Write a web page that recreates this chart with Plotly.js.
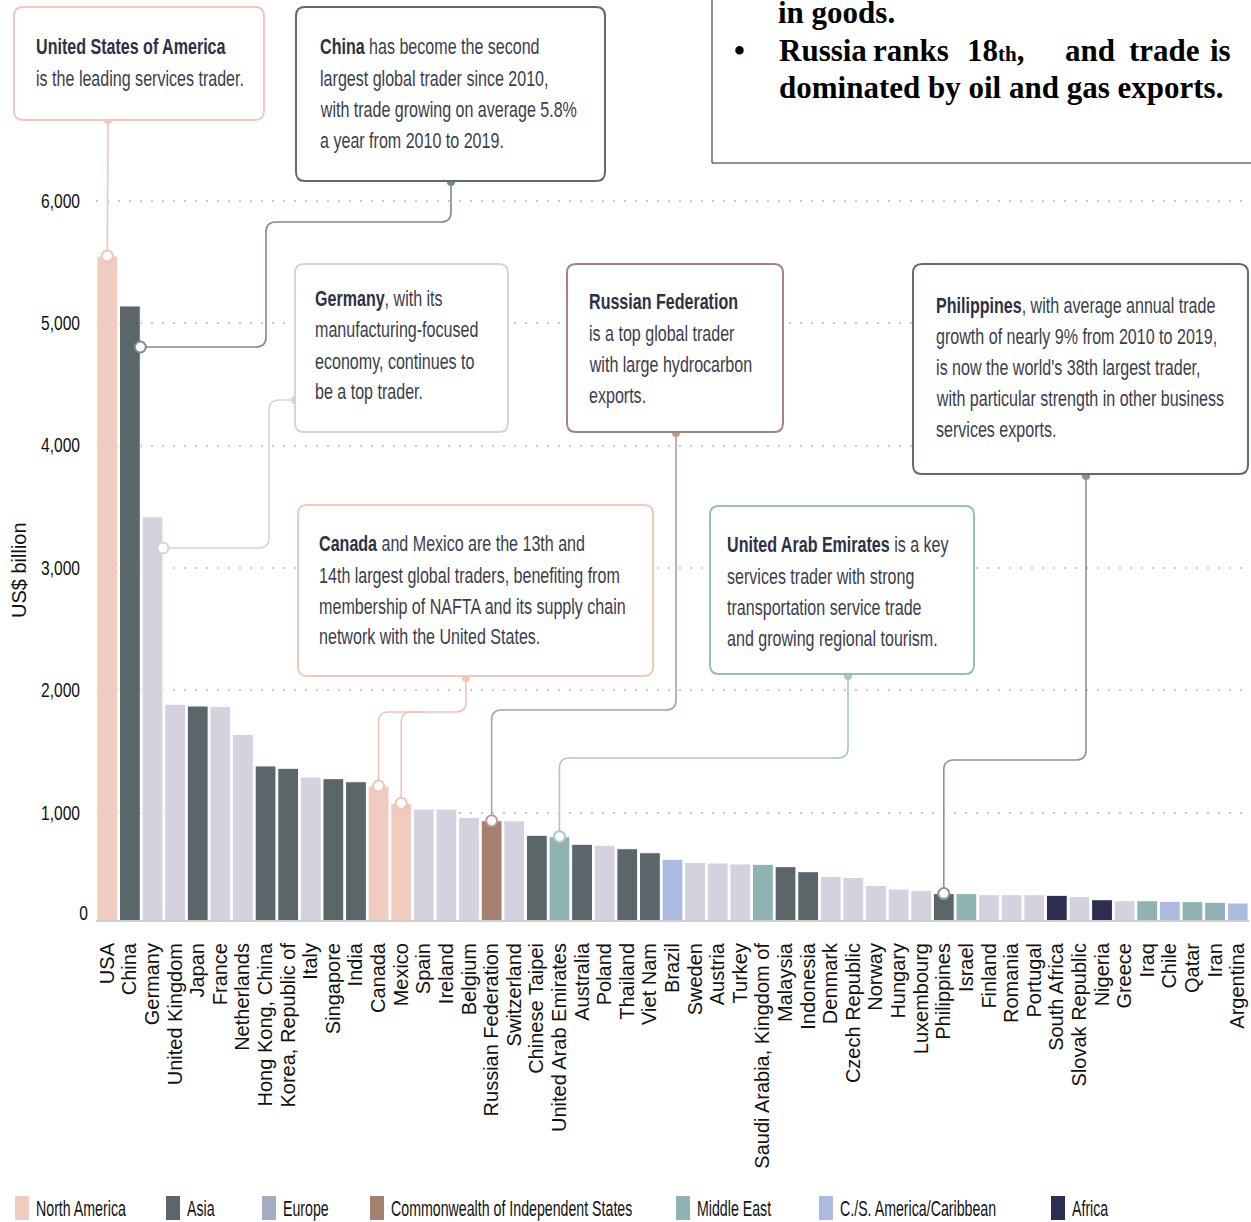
<!DOCTYPE html>
<html>
<head>
<meta charset="utf-8">
<script src="https://cdn.plot.ly/plotly-3.0.1.min.js"></script>
<style>html,body{margin:0;padding:0;background:#fff;}#chart{width:1251px;height:1222px;}</style>
</head>
<body>
<div id="chart"></div>
<script>
// ---------------- data ----------------
const countries = ["USA","China","Germany","United Kingdom","Japan","France","Netherlands","Hong Kong, China","Korea, Republic of","Italy","Singapore","India","Canada","Mexico","Spain","Ireland","Belgium","Russian Federation","Switzerland","Chinese Taipei","United Arab Emirates","Australia","Poland","Thailand","Viet Nam","Brazil","Sweden","Austria","Turkey","Saudi Arabia, Kingdom of","Malaysia","Indonesia","Denmark","Czech Republic","Norway","Hungary","Luxembourg","Philippines","Israel","Finland","Romania","Portugal","South Africa","Slovak Republic","Nigeria","Greece","Iraq","Chile","Qatar","Iran","Argentina"];
const tradeValues = [5548,5140,3418,1886,1872,1869,1640,1382,1363,1292,1278,1253,1218,1077,1030,1030,962,934,934,815,804,742,734,706,673,619,595,589,581,578,559,518,480,472,405,377,363,339,339,330,330,330,325,314,289,281,281,276,273,268,262];
const countryRegion = ["NA","AS","EU","EU","AS","EU","EU","AS","AS","EU","AS","AS","NA","NA","EU","EU","EU","CIS","EU","AS","ME","AS","EU","AS","AS","CSA","EU","EU","EU","ME","AS","AS","EU","EU","EU","EU","EU","AS","ME","EU","EU","EU","AF","EU","AF","EU","ME","CSA","ME","ME","CSA"];
const regionKeys = ["NA","AS","EU","CIS","ME","CSA","AF"];
const regionNames = ["North America","Asia","Europe","Commonwealth of Independent States","Middle East","C./S. America/Caribbean","Africa"];
const yTickValues = [1000,2000,3000,4000,5000,6000];
const yTickLabels = ["1,000","2,000","3,000","4,000","5,000","6,000"];
const yAxisTitle = "US$ billion";

// ---------------- styles ----------------
const regionColors = {NA:"#f0cbbf",AS:"#5a6669",EU:"#d5d1df",CIS:"#a57f70",ME:"#8fb3b3",CSA:"#aebbe0",AF:"#2b2e4e"};
const legendSwatch = {NA:"#f0cbbf",AS:"#5a6669",EU:"#a4abc2",CIS:"#a57f70",ME:"#8fb3b3",CSA:"#aebbe0",AF:"#2b2e4e"};
const SANS = "Liberation Sans, Arial, sans-serif";
const SERIF = "Liberation Serif, Times New Roman, serif";
const INK = "#2e3047";
const BODY = "#3b3d4c";

// plot geometry (pixels)
const W = 1251, H = 1222;
const L = 96, R = 1249, T = 5, B = 920;
const NX = countries.length;
const Y0 = 935.1, K = 0.1224;           // pixel of value 0, pixels per unit
const UX = (R - L) / NX;
const yRange = [(Y0 - B) / K, (Y0 - T) / K];
const dx = p => (p - L) / UX - 0.5;      // pixel -> data x
const dy = p => (Y0 - p) / K;            // pixel -> data y
const fx = p => (p - L) / (R - L);       // pixel -> paper x
const fy = p => (B - p) / (B - T);       // pixel -> paper y
const idx = name => countries.indexOf(name);
const val = name => tradeValues[idx(name)];

function rrect(x0, y0, x1, y1, r) {
  const P = (x, y) => fx(x).toFixed(5) + "," + fy(y).toFixed(5);
  return `M${P(x0 + r, y0)} L${P(x1 - r, y0)} Q${P(x1, y0)} ${P(x1, y0 + r)} L${P(x1, y1 - r)} Q${P(x1, y1)} ${P(x1 - r, y1)} L${P(x0 + r, y1)} Q${P(x0, y1)} ${P(x0, y1 - r)} L${P(x0, y0 + r)} Q${P(x0, y0)} ${P(x0 + r, y0)} Z`;
}
function roundPath(pts, r) {
  const f = p => p[0].toFixed(4) + "," + p[1].toFixed(3);
  let d = "M" + f(pts[0]);
  for (let i = 1; i < pts.length - 1; i++) {
    const A = pts[i - 1], P = pts[i], C = pts[i + 1];
    const toward = (from, to) => {
      const ddx = to[0] - from[0], ddy = to[1] - from[1];
      if (Math.abs(ddx) > 1e-9) return [from[0] + Math.sign(ddx) * r / UX, from[1]];
      return [from[0], from[1] + Math.sign(ddy) * r / K];
    };
    const s = toward(P, A), e = toward(P, C);
    d += " L" + f(s) + " Q" + f(P) + " " + f(e);
  }
  d += " L" + f(pts[pts.length - 1]);
  return d;
}

// ---------------- callouts ----------------
const callouts = [
  {box:[14,7,264,120], color:"#f2c8bb", line:"#f2c4b6", tx:37, ys:[47,78],
   lines:["<b>United States of America</b>","is the leading services trader."],
   anchor:[108,120], path:[[dx(108),dy(120)],[idx("USA"),val("USA")]], end:[idx("USA"),val("USA")]},
  {box:[296,7,605,181], color:"#5f6b6d", line:"#7e8a8c", tx:321, ys:[47,78,109,140],
   lines:["<b>China</b> has become the second","largest global trader since 2010,","with trade growing on average 5.8%","a year from 2010 to 2019."],
   anchor:[451,182], path:[[dx(451),dy(182)],[dx(451),dy(222)],[dx(266),dy(222)],[dx(266),dy(347)],[idx("China")+0.46,dy(347)]], end:[idx("China")+0.46,dy(347)]},
  {box:[295,264,508,432], color:"#d6d2e0", line:"#d6d2e0", tx:316, ys:[298,330,361,392],
   lines:["<b>Germany</b>, with its","manufacturing-focused","economy, continues to","be a top trader."],
   anchor:[295,400], path:[[dx(295),dy(400)],[dx(269),dy(400)],[dx(269),dy(548)],[idx("Germany")+0.46,dy(548)]], end:[idx("Germany")+0.46,dy(548)]},
  {box:[567,264,783,432], color:"#a8837a", line:"#b99c92", tx:590, ys:[301,333,364,395],
   lines:["<b>Russian Federation</b>","is a top global trader","with large hydrocarbon","exports."],
   anchor:[676,433], path:[[dx(676),dy(433)],[dx(676),dy(710)],[idx("Russian Federation"),dy(710)],[idx("Russian Federation"),val("Russian Federation")]], end:[idx("Russian Federation"),val("Russian Federation")]},
  {box:[913,264,1248,474], color:"#5f6b6d", line:"#8a9597", tx:937, ys:[305,336,367,398,430],
   lines:["<b>Philippines</b>, with average annual trade","growth of nearly 9% from 2010 to 2019,","is now the world's 38th largest trader,","with particular strength in other business","services exports."],
   anchor:[1086,476], path:[[dx(1086),dy(476)],[dx(1086),dy(760)],[idx("Philippines"),dy(760)],[idx("Philippines"),val("Philippines")]], end:[idx("Philippines"),val("Philippines")]},
  {box:[298,505,653,676], color:"#f2c8bb", line:"#f2c4b6", tx:320, ys:[543,575,606,637],
   lines:["<b>Canada</b> and Mexico are the 13th and","14th largest global traders, benefiting from","membership of NAFTA and its supply chain","network with the United States."],
   anchor:[466,678], path:[[dx(466),dy(678)],[dx(466),dy(712)],[idx("Canada"),dy(712)],[idx("Canada"),val("Canada")]], end:[idx("Canada"),val("Canada")],
   branch:[[dx(425),dy(712)],[idx("Mexico"),dy(712)],[idx("Mexico"),val("Mexico")]], branchEnd:[idx("Mexico"),val("Mexico")]},
  {box:[710,506,974,674], color:"#97bcbc", line:"#a9c8c8", tx:728, ys:[544,576,607,638],
   lines:["<b>United Arab Emirates</b> is a key","services trader with strong","transportation service trade","and growing regional tourism."],
   anchor:[848,676], path:[[dx(848),dy(676)],[dx(848),dy(758)],[idx("United Arab Emirates"),dy(758)],[idx("United Arab Emirates"),val("United Arab Emirates")]], end:[idx("United Arab Emirates"),val("United Arab Emirates")]}
];

// ---------------- traces ----------------
const xs = countries.map((c, i) => i);
const traces = [{
  type: "bar", x: xs, y: tradeValues,
  marker: {color: countryRegion.map(r => regionColors[r]), line: {color: "#ffffff", width: 1}},
  hoverinfo: "skip", showlegend: false
}];

const endX = [], endY = [], endC = [];
const ancX = [], ancY = [], ancC = [];
callouts.forEach(c => {
  endX.push(c.end[0]); endY.push(c.end[1]); endC.push(c.line);
  if (c.branchEnd) { endX.push(c.branchEnd[0]); endY.push(c.branchEnd[1]); endC.push(c.line); }
  ancX.push(dx(c.anchor[0])); ancY.push(dy(c.anchor[1])); ancC.push(c.line);
});
traces.push({type:"scatter", mode:"markers", x:ancX, y:ancY, marker:{size:8, color:ancC, line:{width:0}}, hoverinfo:"skip", showlegend:false, cliponaxis:false});
traces.push({type:"scatter", mode:"markers", x:endX, y:endY, marker:{size:11, color:"#ffffff", line:{color:endC, width:2}}, hoverinfo:"skip", showlegend:false, cliponaxis:false});

// ---------------- shapes & annotations ----------------
const shapes = [];
const annotations = [];
const squeeze = [];   // horizontal condensing per annotation: [factor, "left"|"right"] or null
function addAnn(a, sq) { annotations.push(a); squeeze.push(sq || null); }

callouts.forEach(c => {
  shapes.push({type:"path", xref:"x", yref:"y", layer:"between", path:roundPath(c.path, 10), line:{color:c.line, width:1.6}});
  if (c.branch) shapes.push({type:"path", xref:"x", yref:"y", layer:"between", path:roundPath(c.branch, 10), line:{color:c.line, width:1.6}});
  shapes.push({type:"path", xref:"paper", yref:"paper", layer:"above", path:rrect(c.box[0], c.box[1], c.box[2], c.box[3], 9), line:{color:c.color, width:2}, fillcolor:"#ffffff"});
  c.lines.forEach((t, k) => addAnn({
    xref:"paper", yref:"paper", x:fx(c.tx - 3), y:fy(c.ys[k]), xanchor:"left", yanchor:"middle",
    text:t.replace("<b>", "<b style='color:" + INK + "'>"), showarrow:false, font:{family:SANS, size:22, color:BODY}
  }, [0.73, "left"]));
});

// top-right text box
shapes.push({type:"rect", xref:"paper", yref:"paper", layer:"above", x0:fx(712), x1:fx(1262), y0:fy(163), y1:fy(-10), line:{color:"#222", width:1}, fillcolor:"#ffffff"});
const serifFont = {family:SERIF, size:31, color:"#000"};
const noteWords = [["in goods.",776,12],["•",732,51],["Russia",777,50],["ranks",871,50],["18<span style='font-size:21px'>th</span>,",965,50],["and",1063,50],["trade",1127,50],["is",1208,50],["dominated by oil and gas exports.",777,88]];
noteWords.forEach(w => addAnn({xref:"paper", yref:"paper", x:fx(w[1]), y:fy(w[2]), xanchor:"left", yanchor:"middle", text:"<b>"+w[0]+"</b>", showarrow:false, font:serifFont}));

// zero tick label
addAnn({xref:"paper", yref:"paper", x:fx(90), y:fy(913), xanchor:"right", yanchor:"middle", text:"0", showarrow:false, font:{family:SANS, size:19.5, color:"#111"}}, [0.8, "right"]);

// y axis title
addAnn({xref:"paper", yref:"paper", x:fx(19), y:fy(570), xanchor:"center", yanchor:"middle", textangle:-90, text:yAxisTitle, showarrow:false, font:{family:SANS, size:20, color:"#111"}});

// legend
const legendX = [15,166,262,370,676,819,1051];
regionKeys.forEach((k, i) => {
  shapes.push({type:"rect", xref:"paper", yref:"paper", layer:"above", x0:fx(legendX[i]), x1:fx(legendX[i] + 14), y0:fy(1220), y1:fy(1196), line:{width:0}, fillcolor:legendSwatch[k]});
  addAnn({xref:"paper", yref:"paper", x:fx(legendX[i] + 19), y:fy(1208), xanchor:"left", yanchor:"middle", text:regionNames[i], showarrow:false, font:{family:SANS, size:22, color:"#111"}}, [0.645, "left"]);
});

const layout = {
  width: W, height: H,
  margin: {l: L, r: W - R, t: T, b: H - B, pad: 0},
  paper_bgcolor: "#ffffff", plot_bgcolor: "#ffffff",
  bargap: 0.08,
  showlegend: false,
  xaxis: {
    type: "linear", range: [-0.5, NX - 0.5], tickmode: "array", tickvals: xs, ticktext: countries,
    tickangle: -90, tickfont: {family: SANS, size: 20, color: "#111"},
    showgrid: false, zeroline: false, showline: true, linecolor: "#cfcfcf", linewidth: 2,
    ticks: "", ticklabelstandoff: 13, fixedrange: true
  },
  yaxis: {
    range: yRange, tickmode: "array", tickvals: yTickValues, ticktext: yTickLabels,
    tickfont: {family: SANS, size: 19.5, color: "#111"},
    showgrid: true, gridcolor: "#c9c9c9", gridwidth: 2, griddash: "2px,9px",
    zeroline: false, showline: false, ticks: "", ticklabelstandoff: 15,
    fixedrange: true
  },
  shapes: shapes,
  annotations: annotations
};

function condense(el, s, mode) {
  const bb = el.getBBox();
  const ax = mode === "right" ? bb.x + bb.width : bb.x;
  const ex = el.getAttribute("transform") || "";
  el.setAttribute("transform", `${ex} translate(${ax},0) scale(${s},1) translate(${-ax},0)`);
}

Plotly.newPlot("chart", traces, layout, {displayModeBar: false, staticPlot: true}).then(gd => {
  gd.querySelectorAll("g.annotation").forEach(g => {
    const sq = squeeze[+g.getAttribute("data-index")];
    const t = g.querySelector("text.annotation-text");
    if (sq && t) condense(t, sq[0], sq[1]);
  });
  gd.querySelectorAll(".ytick text").forEach(t => condense(t, 0.8, "right"));
});
</script>
</body>
</html>
